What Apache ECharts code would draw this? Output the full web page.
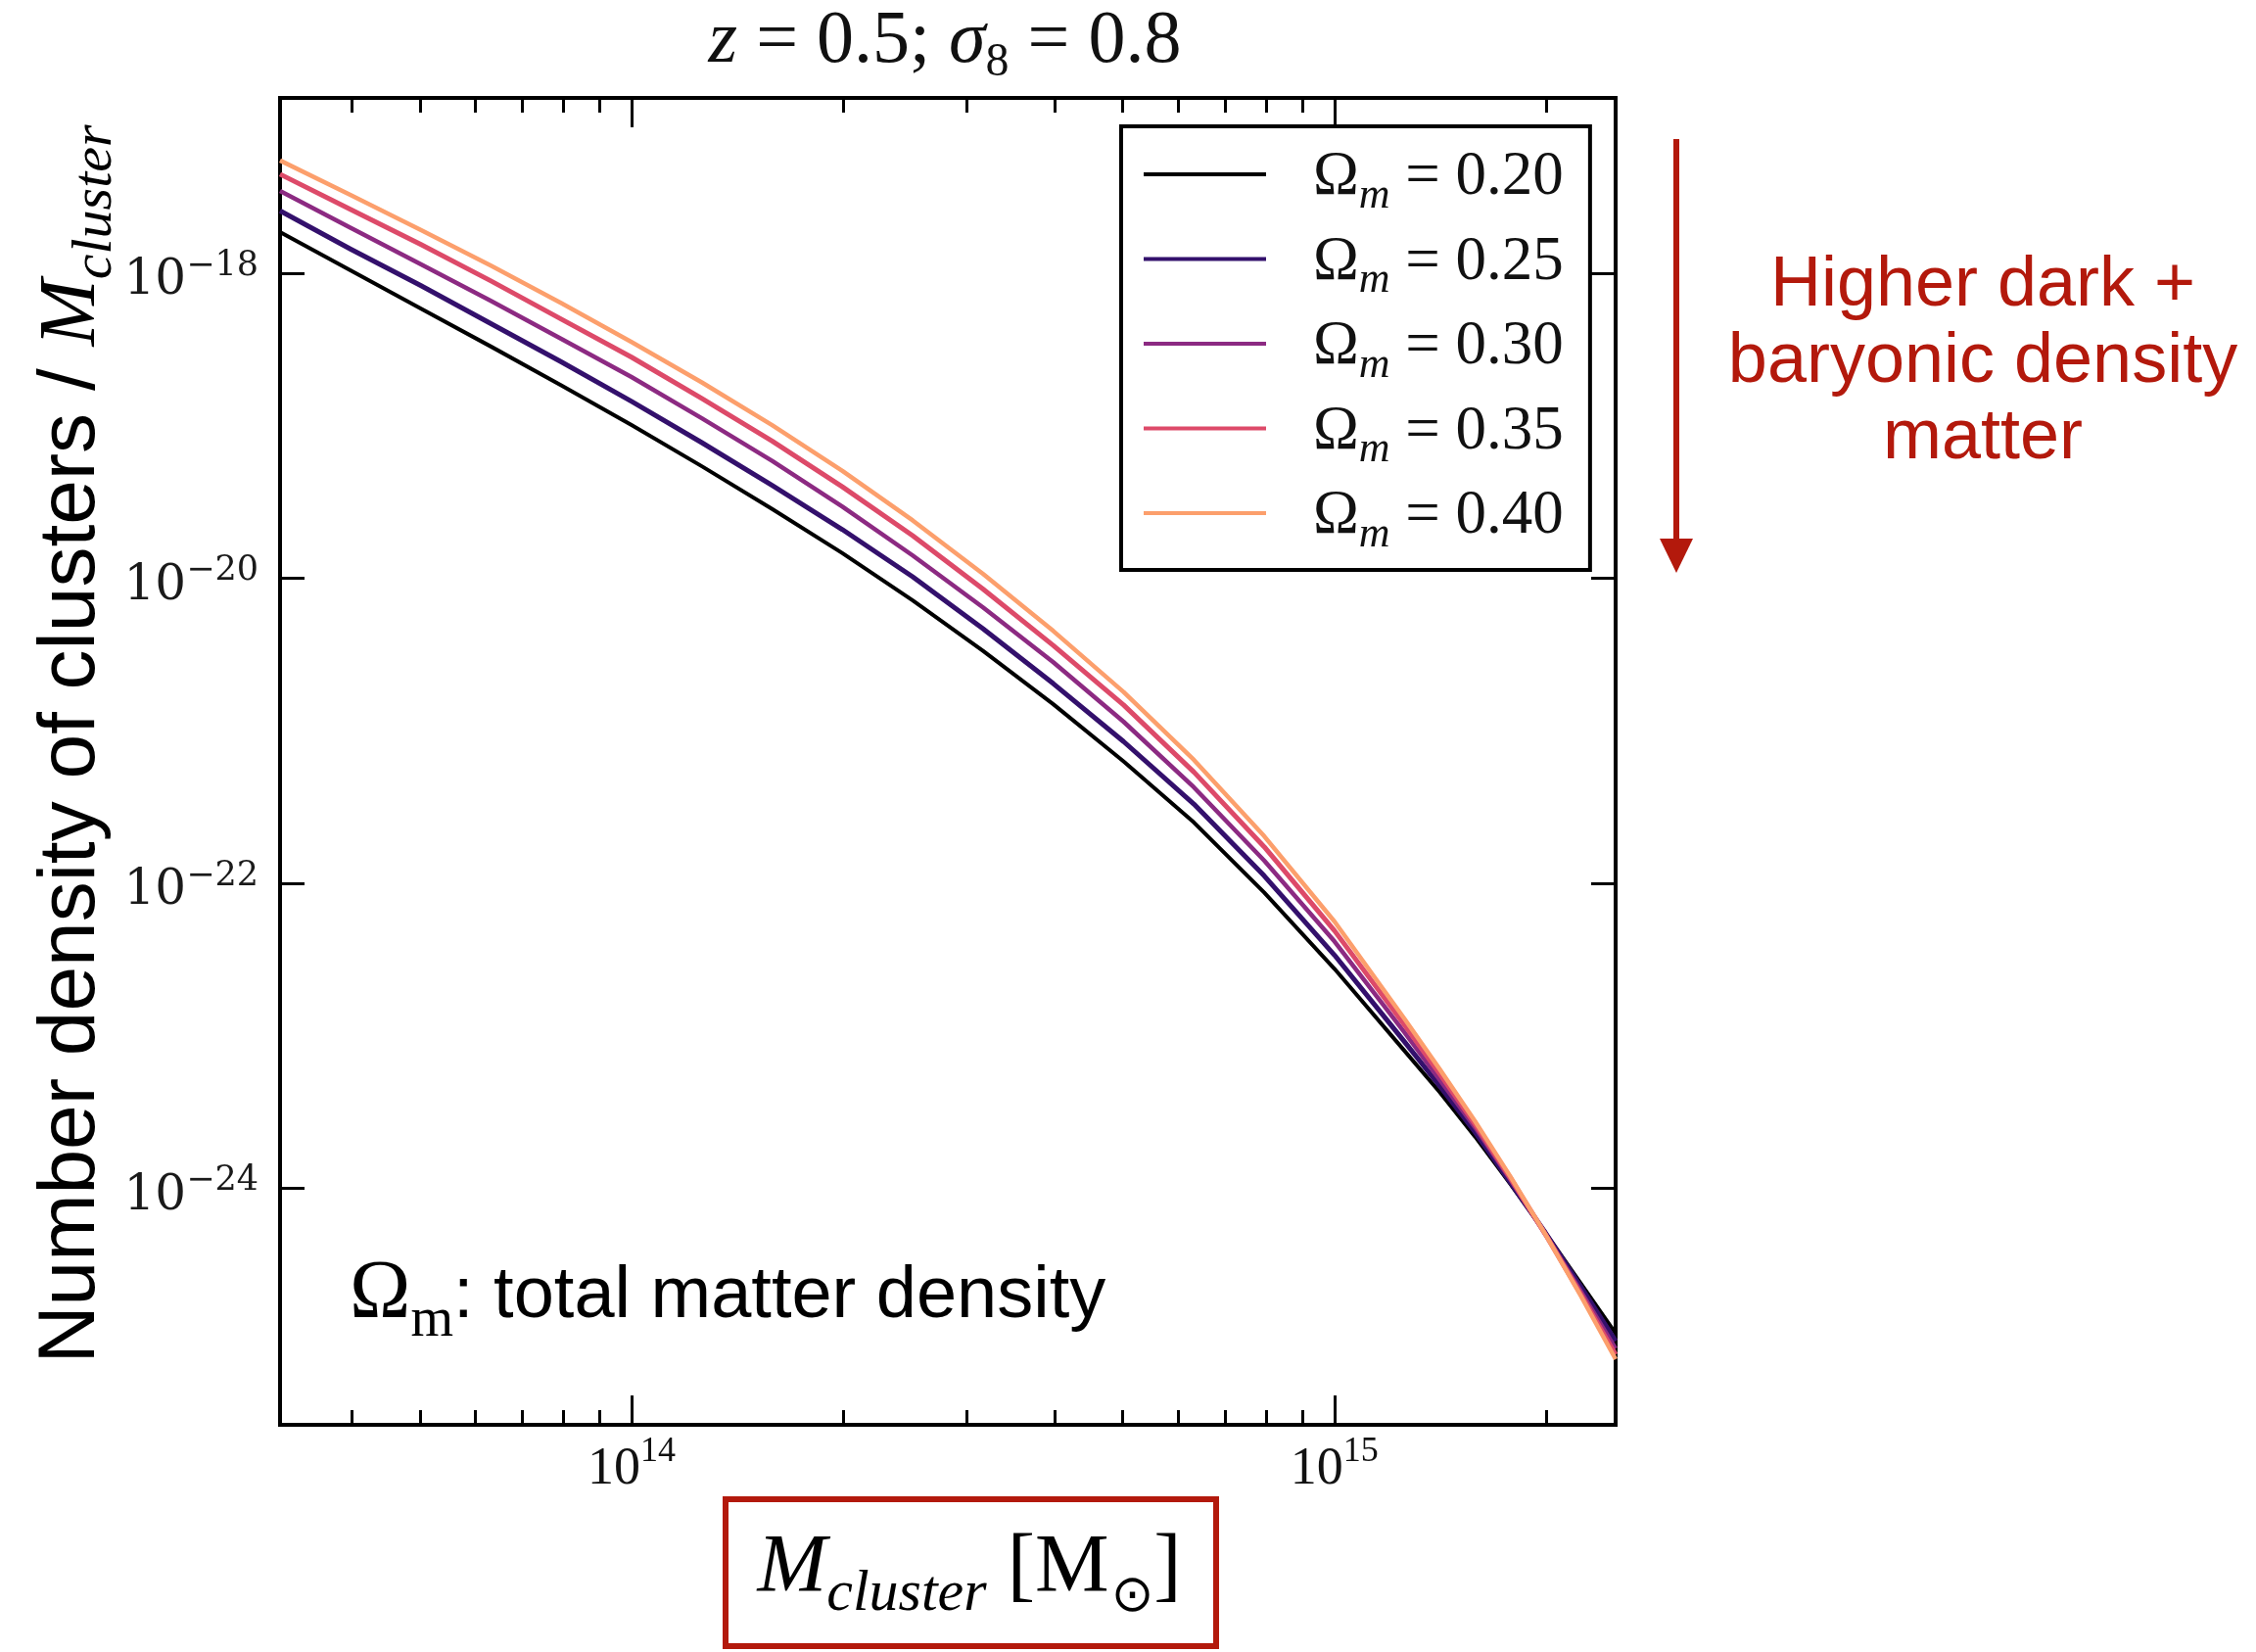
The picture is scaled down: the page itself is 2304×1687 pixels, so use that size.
<!DOCTYPE html>
<html>
<head>
<meta charset="utf-8">
<script src="https://cdn.jsdelivr.net/npm/echarts@6/dist/echarts.min.js"></script>
<style>
html,body{margin:0;padding:0;background:#ffffff;}
#c{width:2304px;height:1687px;}
</style>
</head>
<body>
<div id="c"></div>
<script>
// ---- data ----
// x: log10 of cluster mass [M_sun]
const log10Mass = [13.5, 13.6, 13.7, 13.8, 13.9, 14.0, 14.1, 14.2, 14.3, 14.4, 14.5, 14.6, 14.7, 14.8, 14.9, 15.0, 15.1, 15.15, 15.2, 15.25, 15.3, 15.35, 15.4];
// y: log10 of number density of clusters / M_cluster
const log10Density_020 = [-17.73, -17.98, -18.23, -18.48, -18.735, -18.995, -19.265, -19.545, -19.835, -20.145, -20.475, -20.825, -21.20, -21.60, -22.06, -22.56, -23.10, -23.37, -23.66, -23.97, -24.29, -24.62, -24.95];
const log10Density_025 = [-17.59, -17.84, -18.08, -18.33, -18.58, -18.84, -19.11, -19.39, -19.68, -19.99, -20.33, -20.69, -21.07, -21.48, -21.95, -22.47, -23.04, -23.33, -23.63, -23.96, -24.29, -24.64, -25.00];
const log10Density_030 = [-17.46, -17.70, -17.94, -18.18, -18.43, -18.68, -18.95, -19.23, -19.53, -19.85, -20.19, -20.55, -20.94, -21.37, -21.85, -22.38, -22.98, -23.29, -23.60, -23.94, -24.30, -24.67, -25.05];
const log10Density_035 = [-17.35, -17.58, -17.81, -18.05, -18.30, -18.55, -18.82, -19.10, -19.40, -19.72, -20.07, -20.44, -20.83, -21.27, -21.76, -22.31, -22.93, -23.25, -23.58, -23.93, -24.30, -24.69, -25.09];
const log10Density_040 = [-17.26, -17.485, -17.715, -17.95, -18.195, -18.45, -18.715, -18.995, -19.295, -19.62, -19.97, -20.345, -20.745, -21.19, -21.69, -22.25, -22.89, -23.22, -23.56, -23.92, -24.30, -24.70, -25.12];
const omegaValues = ['0.20', '0.25', '0.30', '0.35', '0.40'];
// tick labels / tick positions
const xMajorExponents = [14, 15];
const xMinorMasses = [4e13, 5e13, 6e13, 7e13, 8e13, 9e13, 2e14, 3e14, 4e14, 5e14, 6e14, 7e14, 8e14, 9e14, 2e15];
const yMajorExponents = [-24, -22, -20, -18];

// ---- styles ----
const SERIF = "'Liberation Serif','Times New Roman',serif";
const SANS = "'Liberation Sans',Arial,Helvetica,sans-serif";
const RED = '#b3190c';
const colors = ['#000000', '#33106c', '#8c2a82', '#dd4a69', '#fc9f6c'];
const widths = [4, 5, 4.5, 5, 4.5];
const densities = [log10Density_020, log10Density_025, log10Density_030, log10Density_035, log10Density_040];
const names = omegaValues.map(v => 'Ω_m = ' + v);
const xMinorLog = xMinorMasses.map(m => Math.log10(m));
const tickStyle = {color: '#000', width: 3};

const chart = echarts.init(document.getElementById('c'), null, {renderer: 'canvas', width: 2304, height: 1687});

const series = densities.map((arr, k) => ({
  name: names[k],
  type: 'line',
  xAxisIndex: 0,
  yAxisIndex: 0,
  symbol: 'none',
  showSymbol: false,
  smooth: false,
  silent: true,
  z: 2 + k,
  lineStyle: {color: colors[k], width: widths[k], join: 'round'},
  itemStyle: {color: colors[k]},
  data: log10Mass.map((x, i) => [x, arr[i]])
}));

const xCommon = {type: 'value', min: 13.5, max: 15.4, splitLine: {show: false}, axisLine: {show: false}};
const yCommon = {type: 'value', min: -25.55, max: -16.85, splitLine: {show: false}, axisLine: {show: false}};

const option = {
  backgroundColor: '#ffffff',
  animation: false,
  grid: {left: 286, right: 654, top: 100, bottom: 232, show: true, borderColor: '#000', borderWidth: 4, backgroundColor: 'transparent'},
  xAxis: [
    Object.assign({}, xCommon, {
      position: 'bottom',
      axisTick: {inside: true, length: 30, customValues: xMajorExponents, lineStyle: tickStyle},
      axisLabel: {
        customValues: xMajorExponents, margin: 10,
        formatter: v => '{b|10}{s|' + v + '}',
        rich: {
          b: {fontFamily: SERIF, fontSize: 54, lineHeight: 54, verticalAlign: 'top', padding: [9, 0, 0, 0], color: '#111'},
          s: {fontFamily: SERIF, fontSize: 36, lineHeight: 36, verticalAlign: 'top', color: '#111'}
        }
      }
    }),
    Object.assign({}, xCommon, {
      position: 'bottom',
      axisTick: {inside: true, length: 15, customValues: xMinorLog, lineStyle: tickStyle},
      axisLabel: {show: false}
    }),
    Object.assign({}, xCommon, {
      position: 'top',
      axisTick: {inside: true, length: 30, customValues: xMajorExponents, lineStyle: tickStyle},
      axisLabel: {show: false}
    }),
    Object.assign({}, xCommon, {
      position: 'top',
      axisTick: {inside: true, length: 15, customValues: xMinorLog, lineStyle: tickStyle},
      axisLabel: {show: false}
    })
  ],
  yAxis: [
    Object.assign({}, yCommon, {
      position: 'left',
      axisTick: {inside: true, length: 25, customValues: yMajorExponents, lineStyle: tickStyle},
      axisLabel: {
        customValues: yMajorExponents, margin: 22,
        formatter: v => '{b|10}{s|−' + Math.abs(v) + '}',
        rich: {
          b: {fontFamily: "'DejaVu Serif',serif", fontSize: 50, lineHeight: 50, verticalAlign: 'top', padding: [8, 0, 8, 0], color: '#1a1a1a'},
          s: {fontFamily: "'DejaVu Serif',serif", fontSize: 35, lineHeight: 35, verticalAlign: 'top', color: '#1a1a1a'}
        }
      }
    }),
    Object.assign({}, yCommon, {
      position: 'right',
      axisTick: {inside: true, length: 25, customValues: yMajorExponents, lineStyle: tickStyle},
      axisLabel: {show: false}
    })
  ],
  legend: {
    orient: 'vertical',
    left: 1145, top: 129,
    padding: [17, 27, 14, 23],
    itemGap: 10.5,
    itemWidth: 125, itemHeight: 4,
    icon: 'rect',
    backgroundColor: '#ffffff',
    borderColor: '#000', borderWidth: 4, borderRadius: 0,
    selectedMode: false,
    data: names,
    formatter: name => '{o|Ω}{m|m}{t| = ' + name.split('= ')[1] + '}',
    textStyle: {
      rich: {
        o: {fontFamily: SERIF, fontSize: 63, lineHeight: 64, verticalAlign: 'top', padding: [4, 0, 4, 43], color: '#111'},
        m: {fontFamily: SERIF, fontStyle: 'italic', fontSize: 44, lineHeight: 44, verticalAlign: 'top', padding: [32, 0, 0, 0], color: '#111'},
        t: {fontFamily: SERIF, fontSize: 63, lineHeight: 64, verticalAlign: 'top', padding: [4, 0, 4, 0], color: '#111'}
      }
    }
  },
  graphic: [
    {
      type: 'text', x: 965, y: 5, silent: true,
      style: {
        text: '{i|z}{r| = 0.5; }{i|σ}{sub|8}{r| = 0.8}',
        align: 'center', verticalAlign: 'top',
        rich: {
          i: {fontFamily: SERIF, fontStyle: 'italic', fontSize: 76, lineHeight: 76, verticalAlign: 'top', fill: '#111'},
          r: {fontFamily: SERIF, fontSize: 76, lineHeight: 76, verticalAlign: 'top', fill: '#111'},
          sub: {fontFamily: SERIF, fontSize: 48, lineHeight: 48, verticalAlign: 'top', padding: [35, 0, 0, 0], fill: '#111'}
        }
      }
    },
    {
      type: 'text', x: 73, y: 760, rotation: Math.PI / 2, silent: true,
      style: {
        text: '{s|Number density of clusters / }{M|M}{c|cluster}',
        align: 'center', verticalAlign: 'middle',
        rich: {
          s: {fontFamily: SANS, fontSize: 82, lineHeight: 82, verticalAlign: 'top', fill: '#000'},
          M: {fontFamily: SERIF, fontStyle: 'italic', fontSize: 82, lineHeight: 82, verticalAlign: 'top', padding: [1, 0, 0, 0], fill: '#000'},
          c: {fontFamily: SERIF, fontStyle: 'italic', fontSize: 58, lineHeight: 58, verticalAlign: 'top', padding: [37, 0, 0, 0], fill: '#000'}
        }
      }
    },
    {
      type: 'text', x: 357, y: 1271, silent: true,
      style: {
        text: '{O|Ω}{m|m}{s|: total matter density}',
        align: 'left', verticalAlign: 'top',
        rich: {
          O: {fontFamily: SERIF, fontSize: 84, lineHeight: 84, verticalAlign: 'top', padding: [10, 0, 0, 0], fill: '#000'},
          m: {fontFamily: SERIF, fontSize: 56, lineHeight: 56, verticalAlign: 'top', padding: [50, 0, 0, 0], fill: '#000'},
          s: {fontFamily: SANS, fontSize: 74, lineHeight: 74, verticalAlign: 'top', padding: [17, 0, 0, 0], fill: '#000'}
        }
      }
    },
    {
      type: 'rect', silent: true,
      shape: {x: 741, y: 1531, width: 501, height: 150},
      style: {fill: 'none', stroke: RED, lineWidth: 6}
    },
    {
      type: 'text', x: 990, y: 1555, silent: true,
      style: {
        text: '{Mi|M}{ci|cluster}{r| [M}{o|⊙}{r|]}',
        align: 'center', verticalAlign: 'top',
        rich: {
          Mi: {fontFamily: SERIF, fontStyle: 'italic', fontSize: 85, lineHeight: 85, verticalAlign: 'top', padding: [5, 0, 0, 0], fill: '#000'},
          ci: {fontFamily: SERIF, fontStyle: 'italic', fontSize: 60, lineHeight: 60, verticalAlign: 'top', padding: [43, 0, 0, 0], fill: '#000'},
          r: {fontFamily: SERIF, fontSize: 85, lineHeight: 85, verticalAlign: 'top', padding: [5, 0, 0, 0], fill: '#000'},
          o: {fontFamily: "'DejaVu Sans',sans-serif", fontSize: 52, lineHeight: 52, verticalAlign: 'top', padding: [50, 0, 0, 2], fill: '#000'}
        }
      }
    },
    {
      type: 'line', silent: true,
      shape: {x1: 1712, y1: 142, x2: 1712, y2: 556},
      style: {stroke: RED, lineWidth: 6}
    },
    {
      type: 'polygon', silent: true,
      shape: {points: [[1695, 550], [1729, 550], [1712, 585]]},
      style: {fill: RED}
    },
    {
      type: 'text', x: 2025, y: 253, silent: true,
      style: {
        text: 'Higher dark +\nbaryonic density\nmatter',
        align: 'center', verticalAlign: 'top',
        fontFamily: SANS, fontSize: 72, lineHeight: 78, fill: RED
      }
    }
  ],
  series: series
};
chart.setOption(option);
</script>
</body>
</html>
